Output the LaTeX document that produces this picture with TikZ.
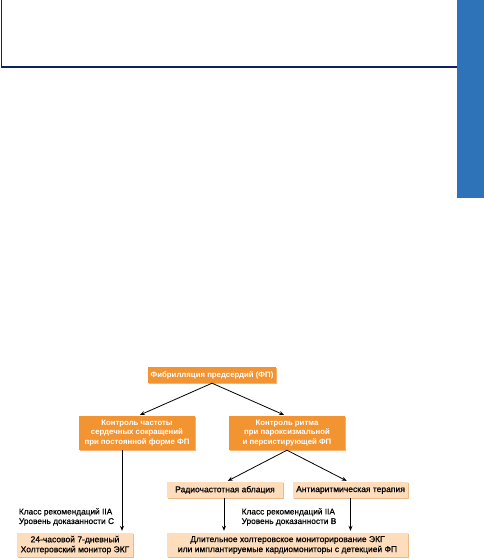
\documentclass[tikz,border=0pt]{standalone}
\usepackage{fontspec}
\setmainfont{Liberation Sans}
\newfontfamily\medfont[FakeBold=0.6]{Liberation Sans}
\usetikzlibrary{shadows,arrows.meta}
\definecolor{navy}{HTML}{0B2263}
\definecolor{barblue}{HTML}{2E72B8}
\definecolor{orangebox}{HTML}{F39433}
\definecolor{orangeshadow}{HTML}{F8B26C}
\definecolor{lightbox}{HTML}{FDDDBB}
\definecolor{lightshadow}{HTML}{ECBA84}
\tikzset{
  darkbox/.style={rectangle, fill=orangebox, text=white, font=\fontsize{7.8}{9.5}\selectfont\bfseries,
    align=center, inner sep=0pt,
    drop shadow={shadow xshift=1.3pt, shadow yshift=-1.3pt, fill=orangeshadow, opacity=1}},
  lightboxst/.style={rectangle, fill=lightbox, text=black, font=\medfont\fontsize{8.5}{10}\selectfont,
    align=center, inner sep=0pt,
    drop shadow={shadow xshift=1.3pt, shadow yshift=-1.3pt, fill=lightshadow, opacity=1}},
  notelabel/.style={font=\medfont\fontsize{8.3}{9.5}\selectfont, align=left, inner sep=0pt},
  conn/.style={-{Stealth[length=5pt,width=4pt]}, line width=0.8pt, black, shorten >=2pt}
}
\begin{document}
\begin{tikzpicture}[x=1pt,y=-1pt]
\useasboundingbox (0,0) rectangle (484,559);
% header frame
\fill[barblue] (457,0) rectangle (484,198);
\draw[navy, line width=0.9pt] (1.2,0) -- (1.2,67);
\draw[navy, line width=2.4pt] (0.8,67) -- (457,67);
% boxes
\node[darkbox, minimum width=128pt, minimum height=16pt] (top) at (212,375) {Фибрилляция предсердий (ФП)};
\node[darkbox, minimum width=116pt, minimum height=34pt] (left) at (137,433) {Контроль частоты\\сердечных сокращений\\при постоянной форме ФП};
\node[darkbox, minimum width=116pt, minimum height=34pt] (right) at (287,433) {Контроль ритма\\при пароксизмальной\\и персистирующей ФП};
\node[lightboxst, minimum width=116pt, minimum height=16pt] (radio) at (225,490) {Радиочастотная аблация};
\node[lightboxst, minimum width=115pt, minimum height=16pt] (anti) at (350.5,490) {Антиаритмическая терапия};
\node[lightboxst, minimum width=116pt, minimum height=24pt] (bl) at (75,545) {24-часовой 7-дневный\\Холтеровский монитор ЭКГ};
\node[lightboxst, minimum width=241pt, minimum height=24pt] (br) at (287.5,545) {Длительное холтеровское мониторирование ЭКГ\\или имплантируемые кардиомониторы с детекцией ФП};
% labels
\node[notelabel] (labl) at (66.5,517) {Класс рекомендаций IIA\\Уровень доказанности С};
\node[notelabel] (labr) at (289,517) {Класс рекомендаций IIA\\Уровень доказанности В};
% connectors
\draw[conn] (top.south) -- ([xshift=1pt]left.north);
\draw[conn] (top.south) -- ([xshift=-1pt]right.north);
\draw[conn] ([xshift=-15pt]left.south) -- ([xshift=47pt]bl.north);
\draw[conn] (right.south) -- ([xshift=1pt]radio.north);
\draw[conn] (right.south) -- ([xshift=-2pt]anti.north);
\draw[conn] ([xshift=-1pt]radio.south) -- ([xshift=-1pt]radio.south |- br.north);
\draw[conn] (anti.south) -- (anti.south |- br.north);
\end{tikzpicture}
\end{document}
